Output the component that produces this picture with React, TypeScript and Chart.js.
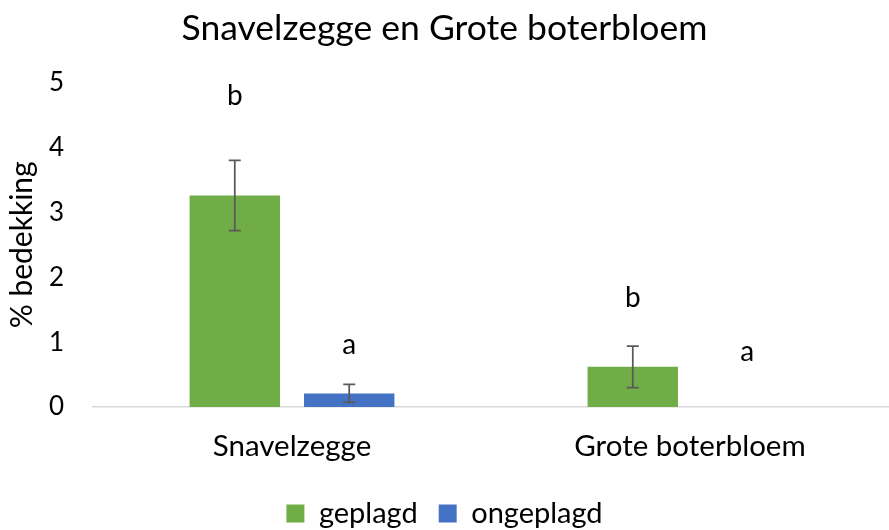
import React, { useEffect, useRef } from "react";
import { Chart, registerables } from "chart.js";

Chart.register(...registerables);

const categories = ["Snavelzegge", "Grote boterbloem"];
const geplagd = [3.26, 0.62];
const ongeplagd = [0.21, 0];
const geplagdErr = [0.54, 0.32];
const ongeplagdErr = [0.14, 0];
const geplagdLetters = ["b", "b"];
const ongeplagdLetters = ["a", "a"];
const geplagdLetterY = [4.8, 1.68];
const ongeplagdLetterY = [0.95, 0.85];
const yTicks = [0, 1, 2, 3, 4, 5];

const FONT = "Lato, 'Open Sans', sans-serif";

const annotPlugin = {
  id: "annot",
  afterDatasetsDraw(chart: any) {
    const ctx = chart.ctx;
    const y = chart.scales.y;
    const errs = [geplagdErr, ongeplagdErr];
    const vals = [geplagd, ongeplagd];
    const letters = [geplagdLetters, ongeplagdLetters];
    const letterY = [geplagdLetterY, ongeplagdLetterY];
    ctx.save();
    for (let d = 0; d < 2; d++) {
      const meta = chart.getDatasetMeta(d);
      meta.data.forEach((bar: any, i: number) => {
        const v = vals[d][i];
        const e = errs[d][i];
        const x = bar.x;
        if (e > 0) {
          const yt = y.getPixelForValue(v + e);
          const yb = y.getPixelForValue(v - e);
          ctx.strokeStyle = "#595959";
          ctx.lineWidth = 1.75;
          ctx.beginPath();
          ctx.moveTo(x, yt);
          ctx.lineTo(x, yb);
          ctx.moveTo(x - 6, yt);
          ctx.lineTo(x + 6, yt);
          ctx.moveTo(x - 6, yb);
          ctx.lineTo(x + 6, yb);
          ctx.stroke();
        }
        ctx.fillStyle = "#000";
        ctx.font = `28px ${FONT}`;
        ctx.textAlign = "center";
        ctx.textBaseline = "middle";
        ctx.fillText(letters[d][i], x, y.getPixelForValue(letterY[d][i]));
      });
    }
    ctx.restore();
  },
};

export default function App() {
  const ref = useRef<HTMLCanvasElement>(null);
  useEffect(() => {
    document.body.style.margin = "0";
    const chart = new Chart(ref.current!, {
      type: "bar",
      data: {
        labels: categories,
        datasets: [
          { label: "geplagd", data: geplagd, backgroundColor: "#70AD47", categoryPercentage: 0.575, barPercentage: 0.79 },
          { label: "ongeplagd", data: ongeplagd, backgroundColor: "#4472C4", categoryPercentage: 0.575, barPercentage: 0.79 },
        ],
      },
      options: {
        animation: false,
        responsive: false,
        layout: { padding: { left: 0, right: 0, top: 0, bottom: -8 } },
        plugins: {
          title: {
            display: true,
            text: "Snavelzegge en Grote boterbloem",
            color: "#000",
            font: { family: FONT, size: 35.5, weight: "normal" },
            padding: { top: 7, bottom: 33 },
          },
          legend: {
            position: "bottom",
            labels: {
              color: "#000",
              font: { family: FONT, size: 29 },
              boxWidth: 18,
              boxHeight: 18,
              padding: 21,
            },
          },
          tooltip: { enabled: false },
        },
        scales: {
          x: {
            afterFit: (axis: any) => {
              axis.height = 71;
            },
            grid: { display: false, drawTicks: false },
            border: { display: true, color: "#d9d9d9", width: 1.5 },
            ticks: { color: "#000", font: { family: FONT, size: 29.5 }, padding: 22 },
          },
          y: {
            min: 0,
            max: 5,
            afterFit: (axis: any) => {
              axis.width = 93;
            },
            afterBuildTicks: (axis: any) => {
              axis.ticks = yTicks.map((v) => ({ value: v }));
            },
            grid: { display: false, drawTicks: false },
            border: { display: false },
            ticks: { color: "#000", font: { family: FONT, size: 26 }, padding: 29 },
            title: {
              display: true,
              text: "% bedekking",
              color: "#000",
              font: { family: FONT, size: 30 },
              padding: { top: 4, bottom: 2 },
            },
          },
        },
      },
      plugins: [annotPlugin],
    });
    return () => chart.destroy();
  }, []);
  return <canvas ref={ref} width={889} height={530} style={{ display: "block" }} />;
}
